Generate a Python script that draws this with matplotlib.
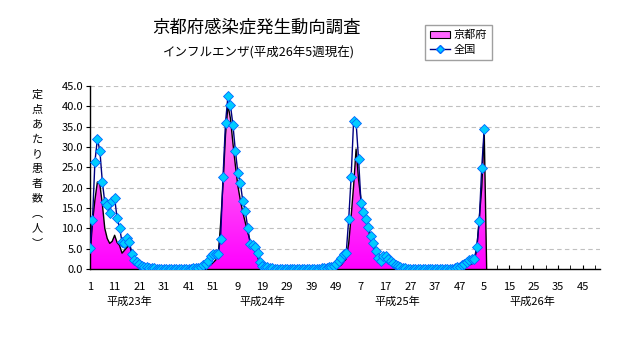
import numpy as np
import matplotlib
matplotlib.use("Agg")
import matplotlib.pyplot as plt
from matplotlib.colors import LinearSegmentedColormap
from matplotlib.patches import Patch, Polygon
from matplotlib.lines import Line2D

plt.rcParams['font.family'] = ['Noto Sans CJK JP', 'DejaVu Sans']

# weekly values per sentinel, H23 (2011) week 1 .. H26 (2014) week 5
zenkoku_h23 = [5.2, 12.0, 26.4, 32.0, 29.1, 21.5, 16.4, 15.8, 13.8, 16.8,
               17.4, 12.5, 10.2, 6.6, 6.4, 7.7, 6.7, 3.6, 2.1, 1.8,
               1.3, 0.8, 0.5, 0.4, 0.3, 0.2, 0.2, 0.1, 0.1, 0.1,
               0.1, 0.1, 0.1, 0.1, 0.1, 0.1, 0.1, 0.1, 0.1, 0.1,
               0.1, 0.1, 0.2, 0.2, 0.3, 0.5, 0.9, 1.3, 2.0, 3.3,
               3.6, 3.7]
zenkoku_h24 = [3.8, 7.5, 22.7, 36.0, 42.6, 40.3, 35.5, 29.1, 23.7, 21.2,
               16.8, 14.3, 10.2, 6.2, 5.9, 5.5, 4.0, 1.6, 0.8, 0.5,
               0.4, 0.3, 0.2, 0.1, 0.1, 0.1, 0.1, 0.1, 0.1, 0.1,
               0.1, 0.1, 0.1, 0.1, 0.1, 0.0, 0.0, 0.0, 0.0, 0.0,
               0.1, 0.1, 0.2, 0.2, 0.3, 0.4, 0.6, 0.8, 1.2, 1.9,
               2.8, 3.6]
zenkoku_h25 = [4.0, 12.2, 22.7, 36.5, 36.0, 27.0, 16.3, 14.1, 12.3, 10.4,
               8.1, 6.5, 4.4, 2.8, 2.0, 3.2, 3.2, 2.5, 2.0, 1.5,
               1.1, 0.7, 0.4, 0.3, 0.2, 0.1, 0.1, 0.1, 0.1, 0.1,
               0.1, 0.1, 0.1, 0.1, 0.1, 0.1, 0.1, 0.1, 0.1, 0.1,
               0.1, 0.1, 0.1, 0.1, 0.2, 0.4, 0.6, 0.9, 1.3, 1.8,
               2.3, 2.4]
zenkoku_h26 = [2.5, 5.5, 11.9, 24.9, 34.5]

kyoto_h23 = [3.0, 11.5, 17.0, 21.4, 20.8, 16.0, 10.0, 7.5, 6.3, 6.8,
             8.3, 6.5, 5.8, 3.9, 4.6, 5.3, 5.9, 4.0, 2.2, 1.0,
             0.6, 0.4, 0.3, 0.2, 0.2, 0.1, 0.1, 0.1, 0.1, 0.1,
             0.1, 0.1, 0.1, 0.1, 0.1, 0.1, 0.1, 0.1, 0.1, 0.1,
             0.1, 0.1, 0.1, 0.1, 0.1, 0.2, 0.3, 0.4, 0.6, 1.0,
             1.6, 2.2]
kyoto_h24 = [3.2, 11.0, 21.0, 33.0, 40.3, 37.0, 31.0, 25.5, 20.5, 17.0,
             14.0, 11.5, 9.0, 7.0, 5.5, 4.5, 3.0, 1.2, 0.5, 0.3,
             0.2, 0.1, 0.1, 0.1, 0.1, 0.1, 0.1, 0.1, 0.1, 0.1,
             0.1, 0.1, 0.1, 0.1, 0.1, 0.0, 0.0, 0.0, 0.0, 0.0,
             0.1, 0.1, 0.1, 0.1, 0.1, 0.2, 0.2, 0.3, 0.4, 0.6,
             1.0, 1.8]
kyoto_h25 = [2.5, 6.3, 13.0, 20.5, 29.5, 22.0, 17.0, 14.0, 12.0, 9.5,
             7.3, 5.3, 3.8, 2.5, 1.9, 1.8, 2.0, 1.8, 1.5, 1.2,
             0.8, 0.5, 0.3, 0.2, 0.1, 0.1, 0.1, 0.1, 0.1, 0.1,
             0.1, 0.1, 0.1, 0.1, 0.1, 0.1, 0.1, 0.1, 0.1, 0.1,
             0.1, 0.1, 0.1, 0.1, 0.1, 0.2, 0.3, 0.4, 0.6, 0.8,
             1.0, 1.3]
kyoto_h26 = [2.0, 5.0, 12.5, 20.0, 34.0]

years = ["平成23年", "平成24年", "平成25年", "平成26年"]
weeks_per_year = 52
tick_labels = ["1", "11", "21", "31", "41", "51",
               "9", "19", "29", "39", "49",
               "7", "17", "27", "37", "47",
               "5", "15", "25", "35", "45"]
year_label_pos = [15.8, 70.0, 124.9, 179.7]

zenkoku = np.array(zenkoku_h23 + zenkoku_h24 + zenkoku_h25 + zenkoku_h26)
kyoto = np.array(kyoto_h23 + kyoto_h24 + kyoto_h25 + kyoto_h26)
n_cat = weeks_per_year * len(years)

fig = plt.figure(figsize=(6.32, 3.48), dpi=100)
ax = fig.add_axes([90 / 632, 79 / 348, 510 / 632, 183 / 348])
ax.set_xlim(0, n_cat - 1)
ax.set_ylim(0, 45)

# area for Kyoto (excel style: drops to zero after last value)
kx = np.arange(len(kyoto) + 1)
ky = np.append(kyoto, 0.0)
poly = Polygon(np.column_stack([np.r_[kx, kx[-1], 0], np.r_[ky, 0, 0]]),
               closed=True, facecolor='none', edgecolor='none')
ax.add_patch(poly)
cmap = LinearSegmentedColormap.from_list("pink", ["#ff00ff", "#ff99f0"])
grad = np.linspace(0, 1, 256).reshape(-1, 1)
im = ax.imshow(grad, cmap=cmap, origin='lower', aspect='auto',
               extent=[0, n_cat - 1, 0, 42], zorder=2)
im.set_clip_path(poly)
ax.plot(kx, ky, color='black', lw=1.0, zorder=3)

ax.plot(np.arange(len(zenkoku)), zenkoku, color='#000080', lw=1.0,
        marker='D', markersize=5.0, markerfacecolor='#00ccff',
        markeredgecolor='#0066ff', markeredgewidth=0.6, zorder=4)

ax.yaxis.grid(True, linestyle=(0, (4, 3)), color='#c0c0c0', lw=0.8)
ax.set_axisbelow(True)
for s in ['top', 'right']:
    ax.spines[s].set_visible(False)
for s in ['left', 'bottom']:
    ax.spines[s].set_color('black')
    ax.spines[s].set_linewidth(1.0)

ax.set_yticks(np.arange(0, 46, 5))
ax.set_yticklabels([f"{v:.1f}" for v in np.arange(0, 46, 5)], fontsize=8)
ax.set_xticks(np.arange(0, n_cat, 10))
ax.set_xticklabels(tick_labels, fontsize=8)
ax.set_xticks(np.arange(0, n_cat, 5), minor=True)
ax.tick_params(axis='x', which='both', direction='in', length=3, pad=9)
ax.tick_params(axis='y', direction='out', length=3, pad=2)

for pos, yr in zip(year_label_pos, years):
    ax.text(pos, -0.15, yr, transform=ax.get_xaxis_transform(),
            ha='center', va='top', fontsize=8)

fig.text(256 / 632, 1 - 28 / 348, "京都府感染症発生動向調査",
         ha='center', va='center', fontsize=12.5)
fig.text(259 / 632, 1 - 53 / 348, "インフルエンザ(平成26年5週現在)",
         ha='center', va='center', fontsize=9)

ylab = "定点あたり患者数︵人︶"
fig.text(37 / 632, 1 - 169 / 348, "\n".join(ylab), ha='center', va='center',
         fontsize=8, linespacing=1.6)

handles = [Patch(facecolor='#ff66ff', edgecolor='black', lw=0.8),
           Line2D([], [], color='#000080', lw=1.0, marker='D', markersize=4,
                  markerfacecolor='#00ccff', markeredgecolor='#0066ff')]
fig.legend(handles, ["京都府", "全国"], loc='upper left',
           bbox_to_anchor=(425 / 632, 1 - 25 / 348), fontsize=8,
           fancybox=False, edgecolor='#a0a0a0', framealpha=1,
           handlelength=1.8, handletextpad=0.3, borderpad=0.45,
           labelspacing=0.45, borderaxespad=0)

fig.savefig("out.png", dpi=100)
